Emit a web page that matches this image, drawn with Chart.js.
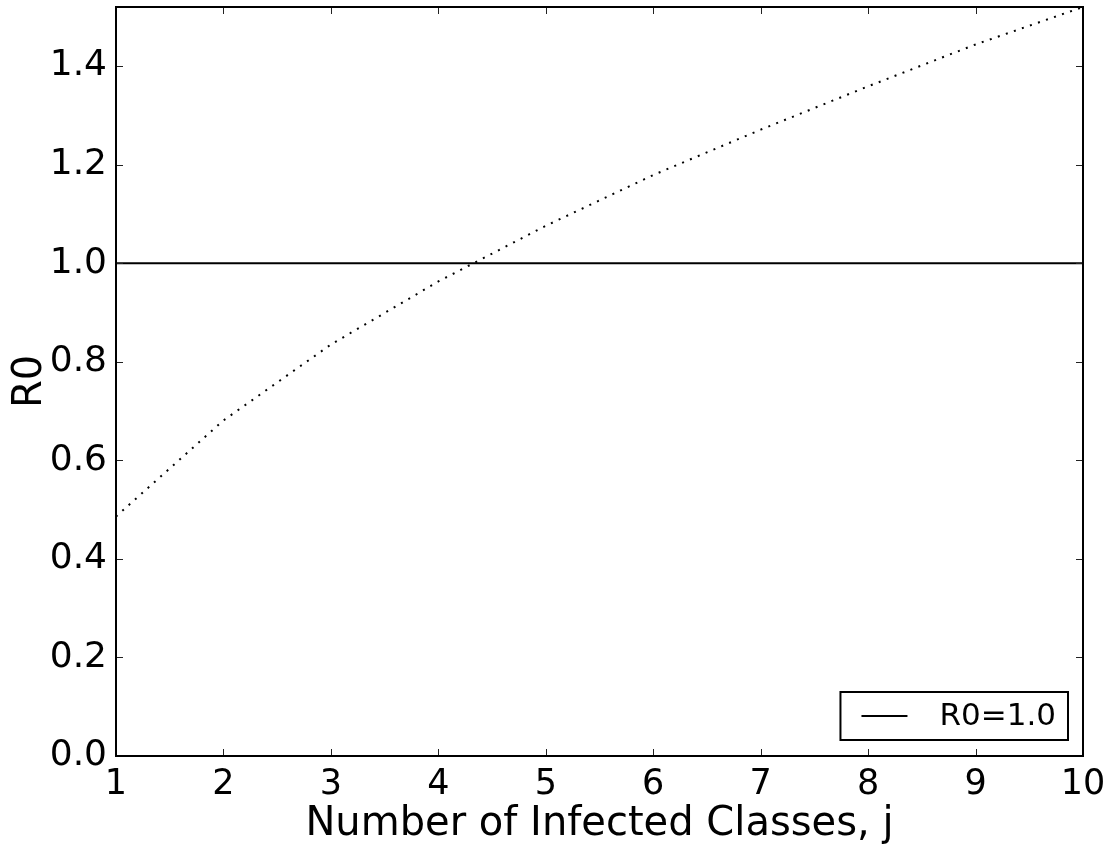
<!DOCTYPE html>
<html>
<head>
<meta charset="utf-8">
<title>R0 vs number of infected classes</title>
<script src="https://cdn.jsdelivr.net/npm/chart.js@4/dist/chart.umd.min.js"></script>
<style>
  html, body { margin: 0; padding: 0; background: #fff; }
  canvas { display: block; }
</style>
</head>
<body>
<canvas id="chart" width="1114" height="852"></canvas>
<script>
// Number of infected classes j
const jValues = [1, 2, 3, 4, 5, 6, 7, 8, 9, 10];
// Basic reproduction number for each j
const r0Values = [0.486, 0.681, 0.835, 0.963, 1.076, 1.179, 1.271, 1.359, 1.444, 1.52];
// Epidemic threshold line
const thresholdX = [1, 10];
const thresholdY = [1.0, 1.0];
const thresholdLabel = 'R0=1.0';

const xAxisTitle = 'Number of Infected Classes, j';
const yAxisTitle = 'R0';
const yMin = 0, yMax = 1.52, yStep = 0.2;
const xMin = 1, xMax = 10, xStep = 1;

const FONT = "'DejaVu Sans', sans-serif";

// Inward tick marks on all four sides plus the black axes frame
const framePlugin = {
  id: 'frameTicks',
  afterDatasetsDraw(chart) {
    const { ctx, chartArea: a, scales } = chart;
    const len = 7;
    ctx.save();
    ctx.strokeStyle = '#222';
    ctx.lineWidth = 1;
    ctx.beginPath();
    scales.x.ticks.forEach(t => {
      const px = Math.round(scales.x.getPixelForValue(t.value)) + 0.5;
      ctx.moveTo(px, a.bottom); ctx.lineTo(px, a.bottom - len);
      ctx.moveTo(px, a.top); ctx.lineTo(px, a.top + len);
    });
    scales.y.ticks.forEach(t => {
      const py = Math.round(scales.y.getPixelForValue(t.value)) + 0.5;
      ctx.moveTo(a.left, py); ctx.lineTo(a.left + len, py);
      ctx.moveTo(a.right, py); ctx.lineTo(a.right - len, py);
    });
    ctx.stroke();
    ctx.strokeStyle = '#000';
    ctx.lineWidth = 2;
    ctx.strokeRect(a.left, a.top, a.right - a.left, a.bottom - a.top);
    ctx.restore();
  }
};

// Framed legend box in the lower right corner of the plot area
const boxLegendPlugin = {
  id: 'boxLegend',
  afterDraw(chart) {
    const { ctx, chartArea: a } = chart;
    const ds = chart.data.datasets.filter(d => d.showInLegend);
    ctx.save();
    ctx.font = '31px ' + FONT;
    const rowH = 48;
    const padL = 21, lineLen = 46, gap = 32, padR = 12;
    const textW = Math.max(...ds.map(d => ctx.measureText(d.label).width));
    const w = padL + lineLen + gap + textW + padR;
    const h = rowH * ds.length;
    const x0 = a.right - 15 - w;
    const y0 = a.bottom - 16 - h;
    ctx.fillStyle = '#fff';
    ctx.fillRect(x0, y0, w, h);
    ctx.strokeStyle = '#000';
    ctx.lineWidth = 2;
    ctx.strokeRect(x0, y0, w, h);
    ds.forEach((d, i) => {
      const cy = y0 + rowH * i + rowH / 2;
      ctx.beginPath();
      ctx.strokeStyle = d.borderColor;
      ctx.lineWidth = d.borderWidth;
      ctx.setLineDash(d.borderDash || []);
      ctx.moveTo(x0 + padL, cy);
      ctx.lineTo(x0 + padL + lineLen, cy);
      ctx.stroke();
      ctx.setLineDash([]);
      ctx.fillStyle = '#000';
      ctx.textAlign = 'left';
      ctx.textBaseline = 'middle';
      ctx.fillText(d.label, x0 + padL + lineLen + gap, cy + 1);
    });
    ctx.restore();
  }
};

const curvePoints = jValues.map((j, i) => ({ x: j, y: r0Values[i] }));
const thresholdPoints = thresholdX.map((x, i) => ({ x, y: thresholdY[i] }));

new Chart(document.getElementById('chart'), {
  type: 'line',
  data: {
    datasets: [
      {
        label: 'R0',
        data: curvePoints,
        borderColor: '#000',
        borderWidth: 2,
        borderDash: [2, 6.5],
        borderCapStyle: 'butt',
        pointRadius: 0,
        tension: 0,
        fill: false,
        showInLegend: false
      },
      {
        label: thresholdLabel,
        data: thresholdPoints,
        borderColor: '#000',
        borderWidth: 2,
        pointRadius: 0,
        tension: 0,
        fill: false,
        showInLegend: true
      }
    ]
  },
  options: {
    responsive: false,
    animation: false,
    events: [],
    layout: { padding: { top: 7, right: 31, left: 0, bottom: 0 } },
    plugins: {
      legend: { display: false },
      tooltip: { enabled: false }
    },
    scales: {
      x: {
        type: 'linear',
        min: xMin,
        max: xMax,
        grid: { display: false, drawTicks: false },
        border: { display: false },
        ticks: {
          stepSize: xStep,
          autoSkip: false,
          maxRotation: 0,
          padding: 8,
          color: '#000',
          font: { family: FONT, size: 35 }
        },
        title: {
          display: true,
          text: xAxisTitle,
          color: '#000',
          font: { family: FONT, size: 40 },
          padding: { top: 0, bottom: 3 }
        },
        afterFit(scale) {
          scale.height = 96;
          scale.paddingLeft = 0;
          scale.paddingRight = 0;
        }
      },
      y: {
        min: yMin,
        max: yMax,
        grid: { display: false, drawTicks: false },
        border: { display: false },
        ticks: {
          stepSize: yStep,
          includeBounds: false,
          padding: 9,
          color: '#000',
          font: { family: FONT, size: 36 },
          callback: v => v.toFixed(1)
        },
        title: {
          display: true,
          text: yAxisTitle,
          color: '#000',
          font: { family: FONT, size: 40 },
          padding: { top: 7, bottom: 0 }
        },
        afterFit(scale) {
          scale.width = 116;
          scale.paddingTop = 0;
          scale.paddingBottom = 0;
        }
      }
    }
  },
  plugins: [framePlugin, boxLegendPlugin]
});
</script>
</body>
</html>
